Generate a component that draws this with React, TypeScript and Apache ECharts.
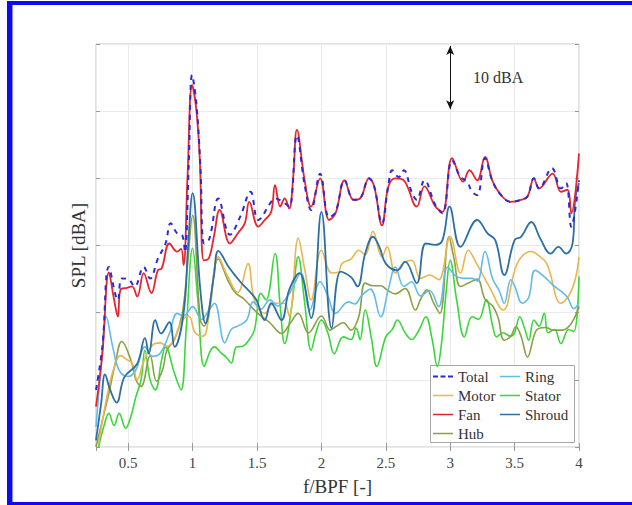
import React, { useEffect, useRef } from "react";
import * as echarts from "echarts";

// ---- data (x = f/BPF, y = relative SPL in dBA, 10 dBA per grid division) ----
const totalData: number[][] = [
  [0.25, 8.5], [0.3, 15], [0.35, 26.8], [0.42, 21.9], [0.45, 25.1], [0.5, 25], [0.55, 23.9], [0.62, 26.8],
  [0.67, 25.1], [0.73, 28], [0.79, 30.3], [0.83, 33.3], [0.88, 31.8], [0.92, 31.5], [0.94, 29], [0.97, 42],
  [0.996, 55.4], [1.03, 51], [1.06, 42], [1.09, 30.3], [1.13, 31], [1.2, 37.0], [1.29, 31.6], [1.37, 34.3],
  [1.45, 38.0], [1.51, 33.8], [1.61, 36.5], [1.64, 37.0], [1.7, 36.5], [1.75, 35.8], [1.81, 46.4], [1.87, 39],
  [1.92, 35.3], [1.99, 40.7], [2.06, 34.2], [2.11, 35], [2.18, 39.7], [2.25, 36.8], [2.3, 37], [2.37, 40],
  [2.41, 38.8], [2.47, 33.3], [2.52, 39], [2.55, 41.2], [2.6, 40.2], [2.64, 41.2], [2.7, 38], [2.74, 36.8],
  [2.8, 39.7], [2.885, 36], [2.94, 34.8], [3.015, 42.7], [3.08, 40.2], [3.13, 39.5], [3.17, 38], [3.21, 37.5],
  [3.27, 43], [3.33, 39.5], [3.395, 37.5], [3.47, 36.5], [3.55, 36.8], [3.6, 37.3], [3.65, 40], [3.69, 38.5],
  [3.79, 41.5], [3.86, 38.5], [3.9, 39.3], [3.94, 32.8], [4.0, 39.7],
];
const fanData: number[][] = [
  [0.25, 6], [0.3, 14], [0.35, 26], [0.39, 22], [0.42, 19.4], [0.44, 23.4], [0.49, 23.7], [0.53, 23.9],
  [0.57, 22.4], [0.62, 25.9], [0.68, 22.9], [0.73, 26.3], [0.76, 26.6], [0.82, 30.3], [0.88, 29.1], [0.91, 29.5],
  [0.93, 27.1], [0.96, 40], [0.996, 53.9], [1.03, 50], [1.056, 42.7], [1.087, 27.8], [1.126, 28.1], [1.165, 31.3],
  [1.21, 35.3], [1.29, 30.3], [1.35, 31.8], [1.405, 33.3], [1.44, 36.5], [1.51, 32.8], [1.56, 33.8], [1.61, 35.0],
  [1.64, 39.0], [1.68, 35.8], [1.715, 37.0], [1.75, 35.5], [1.78, 40], [1.81, 47.2], [1.87, 39.7], [1.92, 35.8],
  [1.99, 40.0], [2.06, 33.8], [2.11, 34.8], [2.18, 39.7], [2.25, 36.8], [2.3, 37.0], [2.37, 40.0], [2.41, 38.8],
  [2.47, 33.0], [2.52, 38.8], [2.575, 40.0], [2.64, 39.7], [2.74, 35.8], [2.8, 38.8], [2.885, 35.8], [2.94, 35.0],
  [3.015, 43.0], [3.1, 39.5], [3.15, 41.2], [3.21, 39.7], [3.27, 43.2], [3.33, 39.5], [3.395, 37.5], [3.47, 36.5],
  [3.55, 36.8], [3.6, 37.3], [3.65, 40.0], [3.69, 38.5], [3.795, 40.7], [3.86, 38.0], [3.91, 38.3], [3.94, 34.8],
  [4.0, 43.7],
];
const shroudData: number[][] = [
  [0.25, 1], [0.29, 6.5], [0.32, 10.8], [0.36, 8.5], [0.41, 6.6], [0.47, 10.4], [0.57, 12.4], [0.63, 16.2],
  [0.66, 13.9], [0.71, 18.9], [0.755, 16.9], [0.82, 18.6], [0.86, 14.9], [0.93, 19.9], [0.965, 30], [1.0, 37.8],
  [1.06, 23.4], [1.1, 18.4], [1.165, 25.4], [1.2, 29.2], [1.28, 26.8], [1.37, 24.6], [1.43, 23.4], [1.495, 21.9],
  [1.56, 18.9], [1.61, 21.4], [1.69, 18.9], [1.75, 23.4], [1.83, 25.9], [1.92, 19.2], [2.0, 35.0], [2.08, 17.7],
  [2.15, 26.1], [2.23, 25.3], [2.28, 23.9], [2.34, 28.8], [2.4, 31.3], [2.45, 29.8], [2.5, 27.3], [2.59, 26.3],
  [2.65, 27.6], [2.74, 24.4], [2.81, 30.3], [2.885, 30.1], [2.94, 30.8], [2.995, 35.8], [3.08, 29.8], [3.21, 33.8],
  [3.29, 31.8], [3.35, 30.8], [3.42, 25.6], [3.5, 30.8], [3.55, 31.3], [3.63, 33.5], [3.7, 31], [3.78, 28.8],
  [3.84, 29.8], [3.9, 28.8], [3.95, 30.3], [3.97, 36.8], [4.0, 39.3],
];
const motorData: number[][] = [
  [0.27, 0.5], [0.34, 8], [0.39, 11.8], [0.44, 13.6], [0.49, 13], [0.53, 12.5], [0.57, 10], [0.62, 12.7],
  [0.69, 15.2], [0.75, 15.5], [0.8, 15], [0.85, 15.8], [0.91, 18.5], [0.97, 19.5], [1.02, 17], [1.08, 16.5],
  [1.13, 20], [1.2, 28.3], [1.27, 25.5], [1.35, 23], [1.43, 27.3], [1.48, 21.9], [1.56, 19.9], [1.63, 21.4],
  [1.71, 21.4], [1.75, 19.5], [1.82, 31.1], [1.87, 26.5], [1.92, 21.9], [2.0, 29.3], [2.08, 25.9], [2.13, 26],
  [2.16, 27.3], [2.23, 28], [2.29, 29.3], [2.34, 28.6], [2.4, 32.1], [2.47, 28.3], [2.51, 29.8], [2.575, 25.9],
  [2.63, 27.3], [2.7, 27.8], [2.77, 25.1], [2.84, 25.6], [2.91, 24.9], [3.0, 31.3], [3.08, 25.9], [3.14, 29.3],
  [3.2, 27.5], [3.3, 24], [3.41, 20.4], [3.52, 27.3], [3.63, 29.1], [3.68, 28.6], [3.75, 27.3], [3.86, 21.4],
  [3.92, 22.5], [3.97, 24.9], [4.0, 28.3],
];
const hubData: number[][] = [
  [0.25, 0], [0.3, 4], [0.35, 8], [0.4, 12.5], [0.45, 15.7], [0.52, 13], [0.56, 10], [0.6, 9], [0.67, 13.6],
  [0.72, 9.8], [0.77, 11.7], [0.8, 14.4], [0.86, 16], [0.92, 19.9], [0.96, 27], [1.0, 34.5], [1.06, 18.9],
  [1.09, 18], [1.13, 20.9], [1.2, 28], [1.27, 25], [1.33, 23], [1.4, 22], [1.5, 20], [1.6, 18.5], [1.69, 16.9],
  [1.76, 18.5], [1.82, 19.9], [1.9, 17], [2.0, 19.5], [2.07, 17.4], [2.11, 17.9], [2.17, 18.5], [2.23, 17.4],
  [2.29, 19.4], [2.34, 24.4], [2.4, 24], [2.46, 24], [2.51, 23.4], [2.575, 22.8], [2.65, 23.6], [2.73, 20.4],
  [2.77, 22], [2.82, 23.4], [2.87, 21.5], [2.92, 19.9], [2.99, 31.3], [3.03, 28], [3.08, 23.9], [3.15, 24.5],
  [3.21, 25], [3.27, 22], [3.33, 21], [3.37, 19.4], [3.42, 15.9], [3.47, 16.5], [3.51, 17.9], [3.55, 16.5],
  [3.6, 13.4], [3.67, 17.4], [3.74, 17.8], [3.8, 17.4], [3.87, 17.4], [3.94, 18.4], [4.0, 20.9],
];
const ringData: number[][] = [
  [0.25, 3], [0.29, 12], [0.33, 19.4], [0.38, 14.9], [0.43, 11.4], [0.5, 10.5], [0.56, 11.5], [0.63, 14.9],
  [0.69, 13.5], [0.75, 14], [0.82, 16.9], [0.88, 19.9], [0.93, 19.5], [1.0, 20.9], [1.07, 19], [1.13, 20.5],
  [1.17, 21.4], [1.25, 15.5], [1.3, 17.5], [1.35, 18], [1.42, 18.9], [1.47, 21.6], [1.53, 20.5], [1.6, 21.9],
  [1.66, 21], [1.72, 22], [1.77, 23.5], [1.84, 25.9], [1.91, 20.4], [1.99, 24.6], [2.05, 22.5], [2.11, 19.9],
  [2.21, 21.6], [2.26, 21.3], [2.31, 22.5], [2.38, 23.5], [2.46, 19.4], [2.52, 23.5], [2.575, 26.8], [2.64, 23.9],
  [2.7, 24.6], [2.77, 22.5], [2.84, 23.3], [2.91, 20.9], [2.98, 26.8], [3.04, 25.5], [3.1, 25.1], [3.17, 25.1],
  [3.21, 24.7], [3.27, 29.1], [3.33, 25], [3.38, 23.3], [3.42, 21.4], [3.47, 24.9], [3.5, 24], [3.56, 21.4],
  [3.61, 22.3], [3.66, 26.3], [3.75, 25], [3.81, 23.9], [3.86, 23.2], [3.91, 22.3], [3.96, 20.6], [4.0, 21.5],
];
const statorData: number[][] = [
  [0.27, 0], [0.31, 3], [0.35, 5.0], [0.39, 3.2], [0.43, 5], [0.48, 2.8], [0.52, 4.5], [0.56, 7.5], [0.6, 10],
  [0.63, 14.4], [0.67, 10], [0.71, 8.5], [0.76, 13], [0.79, 14.9], [0.86, 10.9], [0.91, 8.5], [0.95, 17.5],
  [1.0, 29.6], [1.04, 22], [1.09, 12.0], [1.14, 14.4], [1.17, 14.9], [1.22, 14], [1.26, 13.4], [1.3, 12.5],
  [1.34, 14.9], [1.39, 15], [1.44, 16], [1.48, 17.4], [1.53, 22.9], [1.57, 21.9], [1.64, 28.8], [1.68, 21],
  [1.715, 15.4], [1.77, 21], [1.82, 28.3], [1.87, 21.5], [1.92, 14.4], [1.96, 17.2], [2.0, 18.9], [2.05, 17],
  [2.1, 13.9], [2.17, 16.4], [2.23, 16], [2.27, 17.7], [2.3, 16], [2.34, 20.4], [2.39, 16], [2.43, 12.0],
  [2.5, 16.4], [2.55, 17.5], [2.59, 18.9], [2.65, 17], [2.7, 16.0], [2.76, 17.5], [2.81, 19.4], [2.86, 16],
  [2.9, 12.0], [2.93, 15], [2.97, 23.4], [3.0, 27.8], [3.05, 21.9], [3.11, 16.4], [3.17, 19.4], [3.22, 19],
  [3.28, 21.9], [3.33, 18], [3.36, 16.4], [3.41, 17], [3.47, 16.5], [3.5, 17], [3.54, 19.4], [3.58, 17.5],
  [3.61, 15.9], [3.65, 18.9], [3.69, 18], [3.73, 19.9], [3.76, 17], [3.81, 17.5], [3.86, 15.4], [3.92, 17.5],
  [3.96, 17.2], [4.0, 25.4],
];

const legendLeftCol = ["Total", "Motor", "Fan", "Hub"];
const legendRightCol = ["Ring", "Stator", "Shroud"];

const xRange = [0.25, 4];
const yRange = [0, 60];
const yStep = 10;
const scaleArrow = { x: 3, from: 60, to: 50, label: "10 dBA" };

const SERIF = "Liberation Serif";

// legend icons: a thin horizontal bar centred in a 20x14 box (tiny corner specks fix the bounding box)
const SPECKS = "M0,0L0.01,0L0,0.01Z M19.99,14L20,14L20,13.99Z ";
const ICON_SOLID = "path://" + SPECKS + "M0,6.2H20V7.8H0Z";
const ICON_DASHED = "path://" + SPECKS + "M0,6H5V8H0Z M7.5,6H12.5V8H7.5Z M15,6H20V8H15Z";

export default function App() {
  const ref = useRef<HTMLDivElement>(null);

  useEffect(() => {
    if (!ref.current) return;
    const chart = echarts.init(ref.current, undefined, { renderer: "svg" });

    const mk = (name: string, data: number[][], color: string, width = 1.6, type: any = "solid", extra: any = {}) => ({
      name,
      type: "line",
      data,
      smooth: 0.4,
      symbol: "none",
      clip: true,
      lineStyle: { color, width, type },
      itemStyle: { color },
      emphasis: { disabled: true },
      ...extra,
    });

    const legendCommon = {
      orient: "vertical",
      itemWidth: 20,
      itemHeight: 14,
      itemGap: 4,
      padding: 0,
      selectedMode: false,
      textStyle: { fontFamily: SERIF, fontSize: 15, color: "#333" },
    };
    const legendItems = (names: string[]) =>
      names.map((n) => ({ name: n, icon: n === "Total" ? ICON_DASHED : ICON_SOLID }));

    const option: any = {
      animation: false,
      backgroundColor: "#ffffff",
      textStyle: { fontFamily: SERIF },
      grid: { left: 96, right: 53, top: 44, bottom: 58, show: true, borderColor: "#c4c4c4", borderWidth: 1, backgroundColor: "transparent" },
      xAxis: [
        {
          type: "value",
          min: xRange[0],
          max: xRange[1],
          splitNumber: 8,
          axisLine: { show: false },
          axisTick: { show: true, inside: true, length: 4, lineStyle: { color: "#999" } },
          axisLabel: { showMinLabel: false, color: "#444", fontFamily: SERIF, fontSize: 15, margin: 8 },
          splitLine: { show: true, lineStyle: { color: "#ebebeb" } },
          name: "f/BPF [-]",
          nameLocation: "middle",
          nameGap: 30,
          nameTextStyle: { fontFamily: SERIF, fontSize: 19, color: "#333" },
        },
        {
          type: "value",
          position: "top",
          min: xRange[0],
          max: xRange[1],
          splitNumber: 8,
          axisLine: { show: false },
          axisTick: { show: true, inside: true, length: 4, lineStyle: { color: "#999" } },
          axisLabel: { show: false },
          splitLine: { show: false },
        },
      ],
      yAxis: [
        {
          type: "value",
          min: yRange[0],
          max: yRange[1],
          interval: yStep,
          axisLine: { show: false },
          axisTick: { show: true, inside: true, length: 4, lineStyle: { color: "#999" } },
          axisLabel: { show: false },
          splitLine: { show: true, lineStyle: { color: "#ebebeb" } },
          name: "SPL [dBA]",
          nameLocation: "middle",
          nameGap: 8,
          nameTextStyle: { fontFamily: SERIF, fontSize: 19, color: "#333" },
        },
        {
          type: "value",
          position: "right",
          min: yRange[0],
          max: yRange[1],
          interval: yStep,
          axisLine: { show: false },
          axisTick: { show: true, inside: true, length: 4, lineStyle: { color: "#999" } },
          axisLabel: { show: false },
          splitLine: { show: false },
        },
      ],
      legend: [
        { ...legendCommon, left: 433, top: 369, data: legendItems(legendLeftCol) },
        { ...legendCommon, left: 500, top: 369, data: legendItems(legendRightCol) },
      ],
      graphic: [
        {
          type: "rect",
          z: 3,
          zlevel: 0,
          shape: { x: 430.5, y: 365.5, width: 144, height: 77 },
          style: { fill: "#ffffff", stroke: "#a8a8a8", lineWidth: 1 },
          silent: true,
        },
        {
          type: "text",
          z: 5,
          left: 473,
          top: 69,
          style: { text: scaleArrow.label, fontFamily: SERIF, fontSize: 16, fill: "#333" },
          silent: true,
        },
        { type: "rect", z: 10, shape: { x: 7, y: 1, width: 625, height: 4 }, style: { fill: "#0a0af5" }, silent: true },
        { type: "rect", z: 10, shape: { x: 7, y: 1, width: 5, height: 504 }, style: { fill: "#0a0af5" }, silent: true },
        { type: "rect", z: 10, shape: { x: 12, y: 5, width: 1, height: 500 }, style: { fill: "#8c8cf5" }, silent: true },
        { type: "rect", z: 10, shape: { x: 7, y: 502, width: 625, height: 3 }, style: { fill: "#0a0af5" }, silent: true },
      ],
      series: [
        mk("Stator", statorData, "#3bd63b", 1.6),
        mk("Hub", hubData, "#8c9f45", 1.6),
        mk("Motor", motorData, "#e9b650", 1.6),
        mk("Ring", ringData, "#62bce9", 1.6),
        mk("Shroud", shroudData, "#2c6fa6", 1.8),
        mk("Fan", fanData, "#e8242c", 1.8),
        mk("Total", totalData, "#2b2bd6", 2, [5, 5], {
          markLine: {
            silent: true,
            symbol: ["arrow", "arrow"],
            symbolSize: [6, 9],
            label: { show: false },
            lineStyle: { color: "#111", width: 1, type: "solid" },
            emphasis: { disabled: true },
            data: [[{ coord: [scaleArrow.x, scaleArrow.from - 0.3] }, { coord: [scaleArrow.x, scaleArrow.to + 0.3] }]],
          },
        }),
      ],
    };

    chart.setOption(option);
    return () => chart.dispose();
  }, []);

  return (
    <div
      ref={ref}
      style={{ position: "absolute", left: 0, top: 0, width: 632, height: 505, background: "#fff" }}
    />
  );
}
